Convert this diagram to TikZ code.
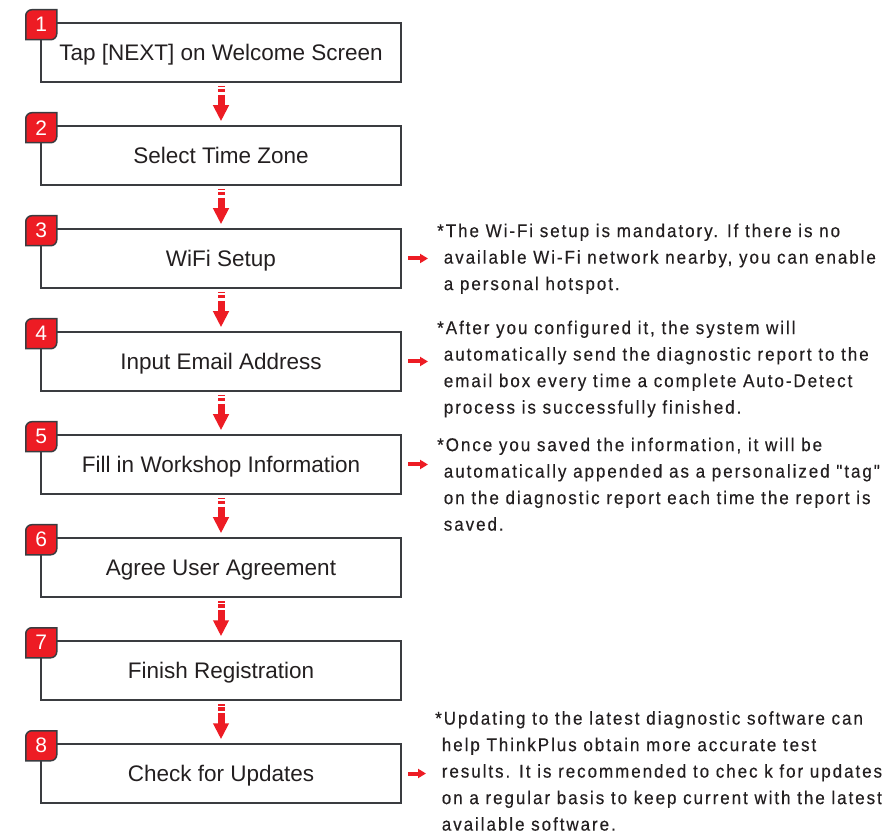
\documentclass[tikz,border=0pt]{standalone}
\usepackage{fontspec}
\setmainfont{Liberation Sans}
\newfontfamily\notefont[FakeStretch=0.92,LetterSpace=10.5,FakeBold=0.3]{Liberation Sans}
\usepackage{tikz}
\usetikzlibrary{arrows.meta,positioning}
\definecolor{linegray}{RGB}{58,60,64}
\definecolor{textgray}{RGB}{35,31,32}
\definecolor{stepred}{RGB}{237,28,36}

\begin{document}
\begin{tikzpicture}[
  x=1pt,y=1pt,
  stepbox/.style={rectangle,draw=linegray,line width=2.5pt,minimum width=360pt,
                  minimum height=59pt,inner sep=0pt,text=textgray,text depth=0pt,
                  font=\fontsize{22.5}{26}\selectfont},
  badgeline/.style={fill=stepred,draw=linegray,line width=1.5pt},
  badgenum/.style={inner sep=0pt,text=white,font=\fontsize{21}{21}\selectfont},
  note/.style={anchor=north west,inner sep=0pt,align=left,text=textgray,
               font=\notefont\fontsize{18.5}{26.5}\selectfont},
  flow/.style={-{Triangle[width=15pt,length=16pt]},line width=7pt,color=stepred,
               dash pattern=on 1.5pt off 1.5pt on 3.5pt off 2.5pt on 80pt,
               shorten <=2.75pt,shorten >=3.5pt},
  sidearrow/.style={-{Triangle[width=9pt,length=8pt]},line width=4pt,color=stepred,
                    shorten <=5.75pt,shorten >=9pt}
]
  \useasboundingbox (0,0) rectangle (896,833);

  % steps
  \node[stepbox] (b1) at (221,780.5) {Tap [NEXT] on Welcome Screen};
  \node[stepbox] (b2) at (221,677.5) {Select Time Zone};
  \node[stepbox] (b3) at (221,574.5) {WiFi Setup};
  \node[stepbox] (b4) at (221,471.5) {Input Email Address};
  \node[stepbox] (b5) at (221,368.5) {Fill in Workshop Information};
  \node[stepbox] (b6) at (221,265.5) {Agree User Agreement};
  \node[stepbox] (b7) at (221,162.5) {Finish Registration};
  \node[stepbox] (b8) at (221,59.5) {Check for Updates};

  % numbered tabs
  \foreach \i in {1,...,8}{
    \coordinate (c\i) at ([shift={(1.5pt,-3pt)}]b\i.north west);
    \draw[badgeline] (c\i) ++(-15.5,-15) -- ++(0,24)
      arc[start angle=180,end angle=90,radius=6] -- ++(25,0) -- ++(0,-24)
      arc[start angle=0,end angle=-90,radius=6] -- cycle;
    \node[badgenum] (s\i) at (c\i) {\i};
  }

  \draw[flow] (b1) -- (b2); \draw[flow] (b2) -- (b3);
  \draw[flow] (b3) -- (b4); \draw[flow] (b4) -- (b5);
  \draw[flow] (b5) -- (b6); \draw[flow] (b6) -- (b7);
  \draw[flow] (b7) -- (b8);

  % notes
  \node[note] (n3) at (437,609.5) {*The Wi-Fi setup is mandatory. If there is no\\
    \phantom{*}available Wi-Fi network nearby, you can enable\\
    \phantom{*}a personal hotspot.};
  \node[note] (n4) at (437,512.5) {*After you configured it, the system will\\
    \phantom{*}automatically send the diagnostic report to the\\
    \phantom{*}email box every time a complete Auto-Detect\\
    \phantom{*}process is successfully finished.};
  \node[note] (n5) at (437,395.5) {*Once you saved the information, it will be\\
    \phantom{*}automatically appended as a personalized "tag"\\
    \phantom{*}on the diagnostic report each time the report is\\
    \phantom{*}saved.};
  \node[note] (n8) at (435,122) {*Updating to the latest diagnostic software can\\
    \phantom{*}help ThinkPlus obtain more accurate test\\
    \phantom{*}results. It is recommended to chec k for updates\\
    \phantom{*}on a regular basis to keep current with the latest\\
    \phantom{*}available software.};

  \draw[sidearrow] (b3.east) -- (b3.east -| n3.west);
  \draw[sidearrow] (b4.east) -- (b4.east -| n4.west);
  \draw[sidearrow] (b5.east) -- (b5.east -| n5.west);
  \draw[sidearrow] (b8.east) -- (b8.east -| n8.west);
\end{tikzpicture}
\end{document}
